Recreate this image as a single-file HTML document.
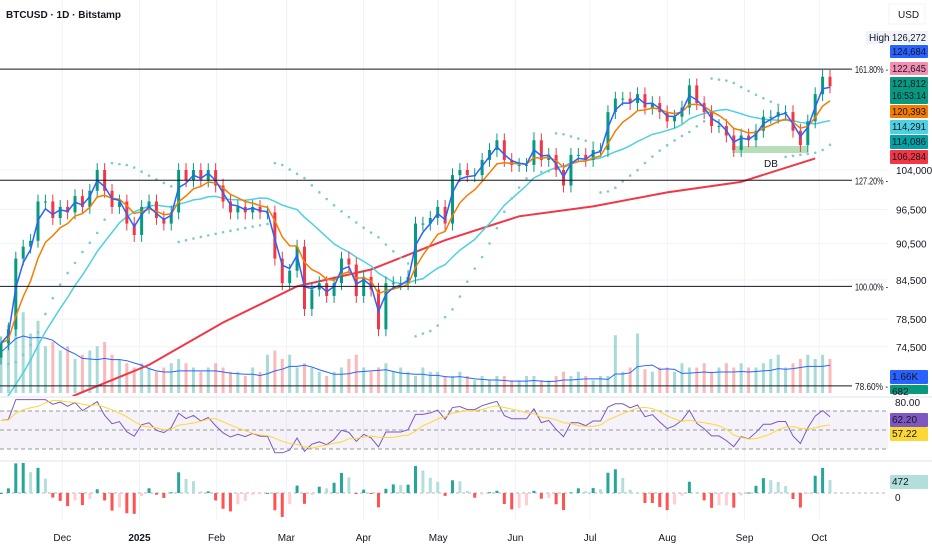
<!DOCTYPE html>
<html><head><meta charset="utf-8"><style>
body{margin:0;background:#fff;font-family:"Liberation Sans",sans-serif;}
svg text{font-family:"Liberation Sans",sans-serif;font-size:10px;fill:#131722;}
</style></head><body>
<svg id="c" width="932" height="550" viewBox="0 0 932 550" xmlns="http://www.w3.org/2000/svg"></svg>
<script>
const closes=[75,77,88,90,91,98,98,95,97,96,
99,97,100,104,100,97,98,94,92,97,
98,95,94,96,104,102,104,102,104,101,
98,96,97,96,97,96,96,88,84,86,
90,80,83,84,82,84,88,87,82,85,
83,77,84,84,84,85,94,94,95,97,
94,103,104,103,103,106,108,110,106,105,
105,105,110,106,107,104,101,107,107,106,
108,108,116,119,119,118,120,117,118,116,
114,115,117,122,118,116,113,113,111,108,
111,110,112,115,115,116,116,112,109,114,
120,124,121.8];
const prehist=[60,62,63,64,62,63,65,66,67,68,67,69,68,70,72,69,70];
const redMA=[63,68,72,78,83.5,86.2,91.1,95.3,97.1,99.7,101.7,106.3];
const volumes=[60,80,100,95,70,85,55,60,50,55,
40,45,50,55,60,45,40,35,30,35,
30,25,30,35,40,35,30,25,30,35,
30,25,25,20,30,25,45,50,40,45,
30,35,30,25,20,25,30,40,45,30,
25,30,35,25,30,25,20,30,25,25,
20,20,25,20,15,20,15,20,20,15,
15,20,20,15,15,20,25,20,25,20,
15,20,20,68,25,30,70,28,25,30,
30,25,35,30,30,35,25,30,35,30,
35,30,30,35,40,45,30,35,40,45,
40,45,40];
const priceTicks=[104000,96500,90500,84500,78500,74500];
const monthLabels=["Dec","2025","Feb","Mar","Apr","May","Jun","Jul","Aug","Sep","Oct"];
const monthDays=[25,56,87,115,146,176,207,237,268,299,329];
const fibLevels=["161.80%","127.20%","100.00%","78.60%"];
const fibPrices=[125800,102000,83500,69200];

const NS="http://www.w3.org/2000/svg",svg=document.getElementById('c');
function el(t,a,p){const e=document.createElementNS(NS,t);for(const k in a)e.setAttribute(k,a[k]);(p||svg).appendChild(e);return e;}
const X=i=>1+i*(829/(closes.length-1));
const XD=d=>d*2.49;
const Y=p=>170-Math.log(p/104)*530;
const Yp=v=>170-Math.log(v/104000)*530;
const grid=el('g',{});
priceTicks.forEach(t=>el('line',{x1:0,x2:888,y1:Yp(t),y2:Yp(t),stroke:'#f0f3fa'},grid));
monthDays.forEach(d=>el('line',{x1:XD(d),x2:XD(d),y1:0,y2:520,stroke:'#f0f3fa'},grid));
const cp=el('clipPath',{id:'pc'});el('rect',{x:0,y:24,width:888,height:372},cp);
const main=el('g',{'clip-path':'url(#pc)'});
const vg=el('g',{},main);
const VB=393,VS=0.85;
volumes.forEach((v,i)=>{if(i>=closes.length)return;const up=i==0||closes[i]>=closes[i-1];
const r=el('rect',{x:X(i)-1.5,y:VB-v*VS,width:3,height:v*VS,fill:up?'#26a69a':'#ef5350',opacity:0.4},vg);
});
let vpts=[];volumes.forEach((v,i)=>{if(i>=closes.length)return;const s=volumes.slice(Math.max(0,i-5),i+1);vpts.push(X(i)+','+(VB-s.reduce((a,b)=>a+b)/s.length*VS*0.8));});
const vma=el('polyline',{points:vpts.join(' '),fill:'none',stroke:'#2962ff',"stroke-width":1},main);

fibPrices.forEach((p,k)=>{const y=Y(p/1000);const l=el('line',{x1:0,x2:852,y1:y,y2:y,stroke:'#131722',"stroke-width":1});

const t=el('text',{x:855,y:y+4,textLength:33,lengthAdjust:'spacingAndGlyphs'});t.textContent=fibLevels[k]+' -';});
const db=el('rect',{x:732,y:146,width:76,height:7,fill:'#a5d6a7',opacity:0.8},main);
const dbt=el('text',{x:764,y:167},main);dbt.textContent='DB';
let rp=redMA.map((v,k)=>{const i=Math.min(k*10,closes.length-1);return X(i)+','+Y(v);});
const red=el('polyline',{points:rp.join(' '),fill:'none',stroke:'#f23645',"stroke-width":2},main);
const all=prehist.concat(closes);let cp2=[];
closes.forEach((c,i)=>{const j=i+prehist.length;const s=all.slice(j-16,j+1);cp2.push(X(i)+','+Y(s.reduce((a,b)=>a+b)/s.length));});
const cy=el('polyline',{points:cp2.join(' '),fill:'none',stroke:'#4dd0e1',"stroke-width":1.5},main);
const highs=[],lows=[];
const cg=el('g',{},main);
closes.forEach((c,i)=>{const o=i==0?73:closes[i-1];const h=Math.max(o,c)*1.013,l=Math.min(o,c)*0.987;highs.push(h);lows.push(l);
const col=c>=o?'#089981':'#f23645';
el('line',{x1:X(i),x2:X(i),y1:Y(h),y2:Y(l),stroke:col,"stroke-width":1},cg);
const b=el('rect',{x:X(i)-1.5,y:Y(Math.max(o,c)),width:3,height:Math.max(1,Math.abs(Y(o)-Y(c))),fill:col},cg);
});
function ema(arr,a){let r=[],e=arr[0];arr.forEach(v=>{e=a*v+(1-a)*e;r.push(e);});return r;}
const orange=ema(closes,0.27),blue=ema(closes,0.6);
const ol=el('polyline',{points:orange.map((v,i)=>X(i)+','+Y(v)).join(' '),fill:'none',stroke:'#f57c00',"stroke-width":1.5},main);
const bl=el('polyline',{points:blue.map((v,i)=>X(i)+','+Y(v)).join(' '),fill:'none',stroke:'#2962ff',"stroke-width":1.5},main);
(function(){let up=true,af=0.02,ep=highs[0],sar=lows[0];const sg=el('g',{},main);
for(let i=1;i<closes.length;i++){sar=sar+af*(ep-sar);
if(up){if(lows[i]<sar){up=false;sar=ep;ep=lows[i];af=0.02;}else if(highs[i]>ep){ep=highs[i];af=Math.min(0.2,af+0.02);}}
else{if(highs[i]>sar){up=true;sar=ep;ep=highs[i];af=0.02;}else if(lows[i]<ep){ep=lows[i];af=Math.min(0.2,af+0.02);}}
const d=el('circle',{cx:X(i),cy:Y(sar),r:1.3,fill:'#80cbc4'},sg);}})();
el('line',{x1:0,x2:932,y1:397,y2:397,stroke:'#e0e3eb'});el('line',{x1:0,x2:932,y1:461,y2:461,stroke:'#e0e3eb'});
const RY=r=>430-(r-50)*0.95;
const rb=el('rect',{x:0,y:411,width:888,height:38,fill:'#7e57c2',opacity:0.08});
[411,430,449].forEach(y=>el('line',{x1:0,x2:888,y1:y,y2:y,stroke:'#9598a1',"stroke-dasharray":'4 3'}));
let ag=0.5,al=0.5,rsi=[];closes.forEach((c,i)=>{if(i==0){rsi.push(60);return;}const d=c-closes[i-1];ag=(ag*7+Math.max(d,0))/8;al=(al*7+Math.max(-d,0))/8;rsi.push(al==0?85:100-100/(1+ag/al));});
rsi=rsi.map(v=>Math.min(82,Math.max(26,v)));
const rl=el('polyline',{points:rsi.map((v,i)=>X(i)+','+RY(v)).join(' '),fill:'none',stroke:'#7e57c2',"stroke-width":1});
const rsma=rsi.map((v,i)=>{const s=rsi.slice(Math.max(0,i-5),i+1);return s.reduce((a,b)=>a+b)/s.length;});
const yl=el('polyline',{points:rsma.map((v,i)=>X(i)+','+RY(v)).join(' '),fill:'none',stroke:'#fdd835',"stroke-width":1});
const f=ema(closes,0.4),s=ema(closes,0.2),m=f.map((v,i)=>v-s[i]),sig=ema(m,0.5),hist=m.map((v,i)=>v-sig[i]);
const mx=Math.max(...hist.map(Math.abs));const HS=30/mx;
el('line',{x1:0,x2:888,y1:493,y2:493,stroke:'#b2b5be',"stroke-dasharray":'3 3'});
hist.forEach((h,i)=>{const p=i>0?hist[i-1]:0;let col=h>=0?(h>=p?'#26a69a':'#b2dfdb'):(h<p?'#ff5252':'#ffcdd2');
const r=el('rect',{x:X(i)-1.5,y:h>=0?493-h*HS:493,width:3,height:Math.max(1,Math.abs(h*HS)),fill:col});});
monthLabels.forEach((t,k)=>{const e=el('text',{x:XD(monthDays[k]),y:541,'text-anchor':'middle','font-size':'11','font-weight':t=='2025'?'bold':'normal'});e.textContent=t;});
priceTicks.forEach(t=>{const e=el('text',{x:896,y:Yp(t)+4});e.textContent=t.toLocaleString('en-US');});
function badge(y,h,bg,fg,lines,name){const r=el('rect',{x:890,y:y,width:38,height:h,fill:bg,rx:1});
lines.forEach((t,k)=>{const a={x:892,y:y+10+k*12,fill:fg};if(t.length>5){a.textLength=34;a.lengthAdjust='spacingAndGlyphs';}const e=el('text',a);e.textContent=t;});}
badge(45,13,'#2962ff','#fff',['124,684'],'ema-fast-badge');
badge(62,13,'#f48fb1','#131722',['122,645'],'fib-badge');
badge(77,27,'#089981','#fff',['121,812','16:53:14'],'last-price-badge');
badge(105,13,'#f57c00','#fff',['120,393'],'ema-badge');
badge(120,14,'#4dd0e1','#131722',['114,291'],'ma50-badge');
badge(135,14,'#00a3a6','#fff',['114,086'],'sar-badge');
badge(150,14,'#f23645','#fff',['106,284'],'ma200-badge');
badge(370,14,'#2962ff','#fff',['1.66K'],'volume-badge');
badge(385,9,'#089981','#fff',['682'],'volume-ma-badge');
badge(413,14,'#7e57c2','#fff',['62.20'],'rsi-badge');
badge(427,14,'#fdd835','#131722',['57.22'],'rsi-ma-badge');
badge(475,14,'#b2dfdb','#131722',['472'],'macd-badge');
[[402,'80.00'],[497,'0']].forEach(a=>{const e=el('text',{x:895,y:a[0]+4});e.textContent=a[1];});
const hb=el('rect',{x:866,y:31,width:62,height:13,fill:'#f0f3fa'});
let e1=el('text',{x:869,y:41});e1.textContent='High';let e2=el('text',{x:892,y:41,textLength:34,lengthAdjust:'spacingAndGlyphs'});e2.textContent='126,272';
const ub=el('rect',{x:889,y:4,width:36,height:20,fill:'#fff',stroke:'#f0f3fa'});
let e3=el('text',{x:898,y:18});e3.textContent='USD';
const tt=el('text',{x:6,y:18,'font-weight':'bold'});tt.textContent='BTCUSD · 1D · Bitstamp';
</script>
</body></html>
